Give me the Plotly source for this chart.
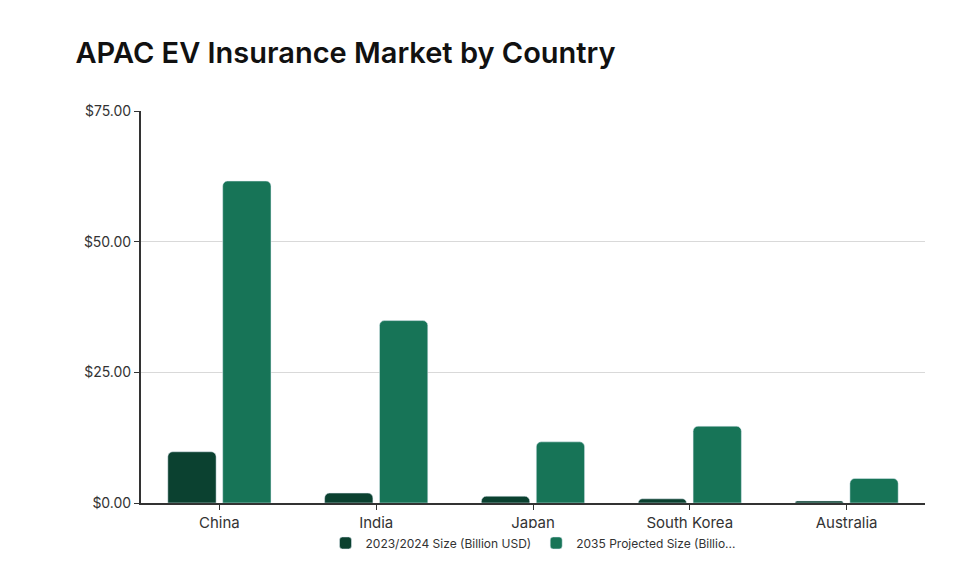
import plotly.graph_objects as go

countries = ["China", "India", "Japan", "South Korea", "Australia"]
size_2024 = [9.8, 1.9, 1.3, 0.8, 0.4]
size_2035 = [61.6, 34.9, 11.7, 14.7, 4.7]
s1_name = "2023/2024 Size (Billion USD)"
s2_name = "2035 Projected Size (Billio..."
y_ticks = [0, 25, 50, 75]
y_labels = ["$0.00", "$25.00", "$50.00", "$75.00"]

fig = go.Figure()
fig.add_bar(x=countries, y=size_2024, name=s1_name, marker_color="#0b4130")
fig.add_bar(x=countries, y=size_2035, name=s2_name, marker_color="#177457")
fig.update_layout(
    width=978, height=561,
    paper_bgcolor="white", plot_bgcolor="white",
    font=dict(family="Inter", color="#333", size=14),
    title=dict(text="APAC EV Insurance Market by Country", x=0.069, xanchor="left", y=0.92, yanchor="middle",
               font=dict(size=29, color="#111", family="Inter", weight=600)),
    margin=dict(l=133, r=61, t=103, b=60),
    barmode="group", bargap=0.3, bargroupgap=0.12, barcornerradius=5,
    legend=dict(orientation="h", x=0.5, xanchor="center", y=-0.065, yanchor="top", font=dict(size=12),
                itemwidth=30, tracegroupgap=0),
    xaxis=dict(showline=True, linecolor="#333", linewidth=2, ticks="outside", ticklen=5, tickcolor="#333",
               tickfont=dict(size=15), automargin=False),
    yaxis=dict(range=[0, 75], tickvals=y_ticks, ticktext=y_labels,
               showline=True, linecolor="#333", linewidth=2, ticks="outside", ticklen=5, tickcolor="#333",
               gridcolor="#d9d9d9", zeroline=False, tickfont=dict(size=14), automargin=False),
)
fig.write_html("out.html")
